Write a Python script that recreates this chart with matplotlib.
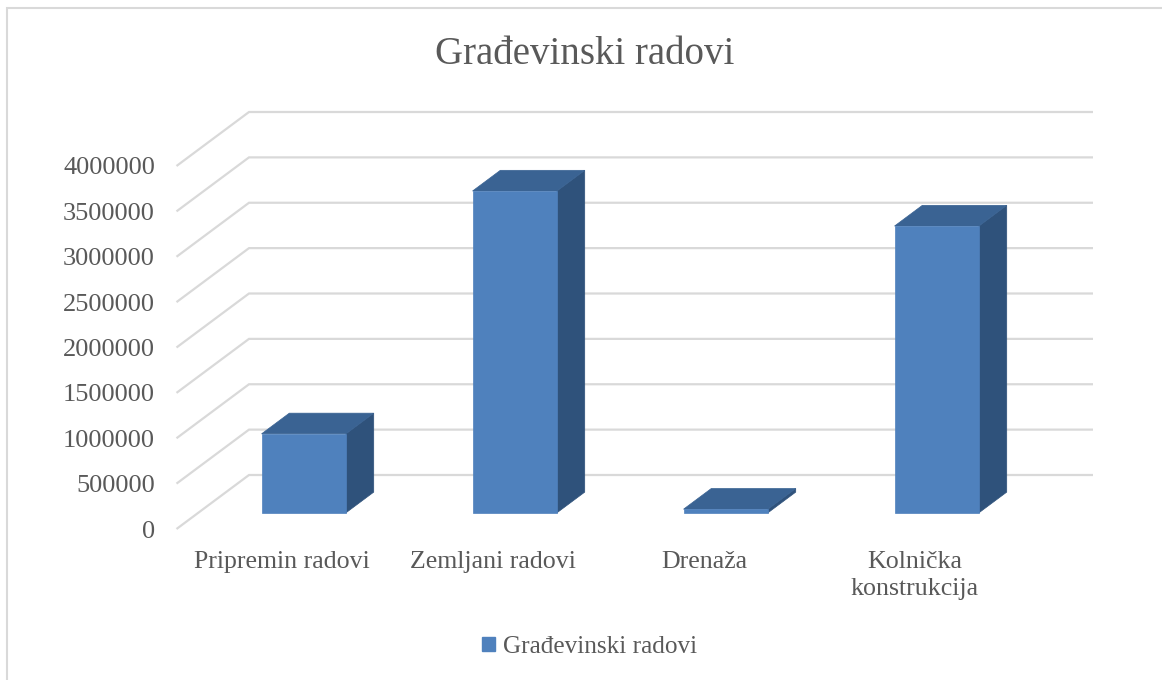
import matplotlib
matplotlib.use('Agg')
import matplotlib.pyplot as plt
from matplotlib.patches import Patch, Rectangle

# Data
categories = ['Pripremin radovi', 'Zemljani radovi', 'Drenaža', 'Kolnička\nkonstrukcija']
values = [870000, 3546000, 40000, 3160000]
yticks = [0, 500000, 1000000, 1500000, 2000000, 2500000, 3000000, 3500000, 4000000]
series_name = 'Građevinski radovi'
title = 'Građevinski radovi'

# Colours
front_col = '#4f81bd'
top_col = '#3a6393'
side_col = '#2f527b'
grid_col = '#d9d9d9'
text_col = '#595959'

plt.rcParams['font.family'] = ['Liberation Serif', 'DejaVu Serif']

W, H = 1162, 680
fig = plt.figure(figsize=(W / 100, H / 100), dpi=100)
fig.patch.set_facecolor('white')

# Chart border
fig.add_artist(Rectangle((7 / W, -0.1), 1.1, 1.1 - 8 / H, transform=fig.transFigure,
                         fill=False, ec='#d9d9d9', lw=1.5))

# The axes frame is the front plane of the 3D box
ax = fig.add_axes([176.5 / W, (H - 529) / H, 844 / W, 363 / H])
ax.set_xlim(-0.5, 3.5)
ax.set_ylim(0, 4000000)
for s in ax.spines.values():
    s.set_visible(False)
ax.patch.set_alpha(0)

# Oblique depth: how far the back wall is shifted, in data units
depth_x = 72.5 / 211
depth_y = 54 / 363 * 4000000
bar_d0 = 0.30
bar_d1 = 0.683
bar_w = 0.4


def proj(x, v, d):
    return x + d * depth_x, v + d * depth_y


# Gridlines: diagonal on the side wall, horizontal on the back wall
for t in yticks:
    xs, ys = zip(proj(-0.5, t, 0), proj(-0.5, t, 1), proj(3.5, t, 1))
    ax.plot(xs, ys, color=grid_col, lw=1.6, clip_on=False, zorder=1,
            solid_joinstyle='miter', solid_capstyle='butt')

# Bars
for i, v in enumerate(values):
    l, r = i - bar_w / 2, i + bar_w / 2
    top = [proj(l, v, bar_d0), proj(r, v, bar_d0), proj(r, v, bar_d1), proj(l, v, bar_d1)]
    side = [proj(r, 0, bar_d0), proj(r, 0, bar_d1), proj(r, v, bar_d1), proj(r, v, bar_d0)]
    front = [proj(l, 0, bar_d0), proj(r, 0, bar_d0), proj(r, v, bar_d0), proj(l, v, bar_d0)]
    ax.fill(*zip(*side), color=side_col, lw=0.5, clip_on=False, zorder=3)
    ax.fill(*zip(*top), color=top_col, lw=0.5, clip_on=False, zorder=3)
    ax.fill(*zip(*front), color=front_col, lw=0.5, clip_on=False, zorder=4)

ax.set_yticks(yticks)
ax.set_yticklabels([str(t) for t in yticks])
ax.set_xticks(range(len(categories)))
ax.set_xticklabels(categories, linespacing=1.3)
ax.tick_params(axis='y', length=0, pad=15.5, labelsize=19, labelcolor=text_col)
ax.tick_params(axis='x', length=0, pad=16, labelsize=18.6, labelcolor=text_col)

fig.text(585 / W, (H - 54) / H, title, ha='center', va='center', fontsize=28, color=text_col)

fig.legend(handles=[Patch(color=front_col, label=series_name)], loc='center',
           bbox_to_anchor=(589.5 / W, (H - 647) / H), frameon=False, fontsize=18.2,
           labelcolor=text_col, handlelength=0.5, handleheight=0.5, handletextpad=0.3)

fig.savefig('out.png', dpi=100)
